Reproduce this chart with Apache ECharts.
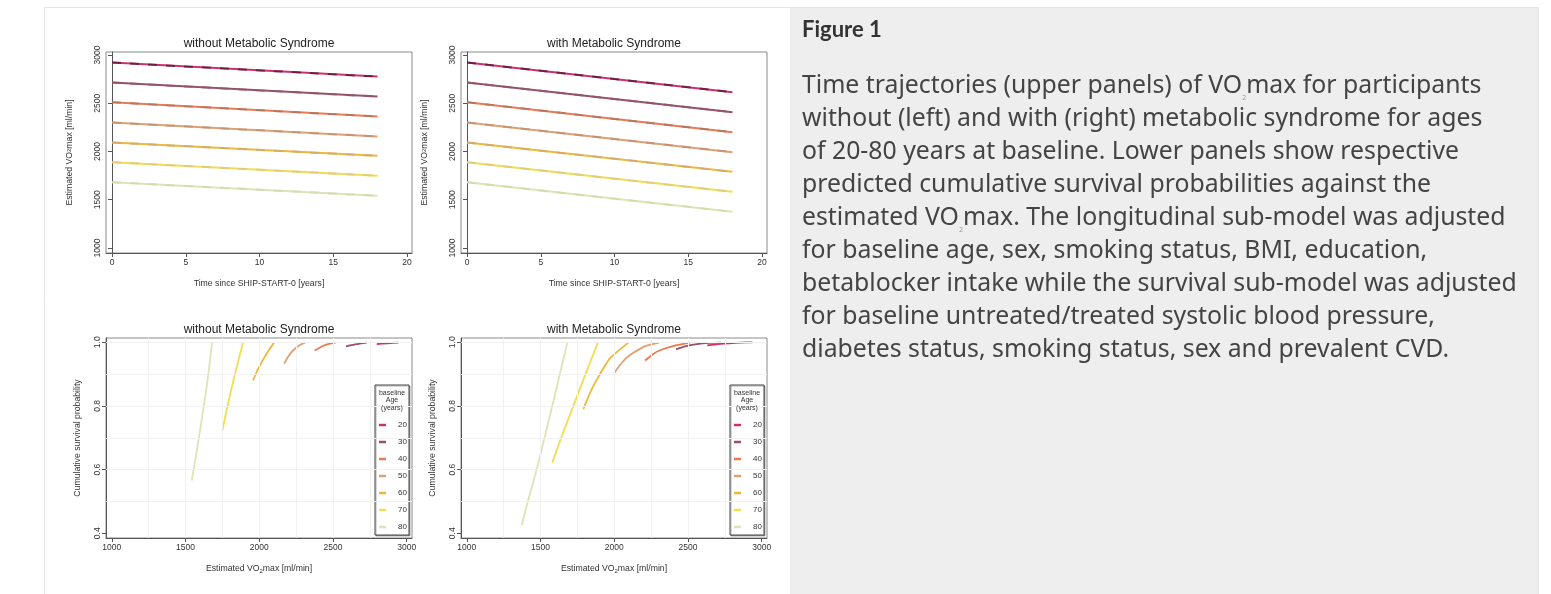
<!DOCTYPE html>
<html><head><meta charset="utf-8">
<script src="https://cdn.jsdelivr.net/npm/echarts@6/dist/echarts.min.js"></script>
<style>html,body{margin:0;padding:0;background:#fff}#c{width:1551px;height:594px}</style>
</head><body><div id="c"></div>
<script>
// ---------- data ----------
const ages = ['20', '30', '40', '50', '60', '70', '80'];
const timeTicks = [0, 5, 10, 15, 20];
const vo2Ticks = [1000, 1500, 2000, 2500, 3000];
const survTicks = [0.4, 0.6, 0.8, 1.0];
const gridVo2 = [1250, 1500, 1750, 2000, 2250, 2500, 2750];
const gridSurv = [0.5, 0.6, 0.7, 0.8, 0.9, 1.0];
const trajTime = [0, 18];
// VO2max at t=0 and t=18 years, per baseline age
const trajNoMetS = [[2921, 2776], [2714, 2569], [2510, 2362], [2300, 2155], [2093, 1955], [1889, 1748], [1682, 1541]];
const trajMetS = [[2921, 2614], [2714, 2407], [2510, 2200], [2300, 1993], [2093, 1789], [1889, 1582], [1682, 1375]];
// survival vs VO2max, per baseline age
const survNoMetS = [
  [[2797, 0.994], [2870, 0.997], [2944, 0.999]],
  [[2588, 0.987], [2660, 0.994], [2729, 0.999]],
  [[2376, 0.974], [2435, 0.989], [2480, 0.996], [2519, 0.999]],
  [[2169, 0.933], [2200, 0.958], [2231, 0.975], [2270, 0.990], [2311, 0.999]],
  [[1958, 0.880], [1990, 0.914], [2028, 0.947], [2065, 0.975], [2101, 0.999]],
  [[1750, 0.722], [1785, 0.800], [1825, 0.880], [1860, 0.945], [1890, 0.999]],
  [[1542, 0.565], [1580, 0.668], [1610, 0.756], [1648, 0.875], [1680, 0.998]]
];
const survMetS = [
  [[2631, 0.990], [2700, 0.994], [2780, 0.997], [2860, 0.999], [2937, 1.000]],
  [[2419, 0.978], [2480, 0.987], [2560, 0.994], [2640, 0.998], [2724, 0.999]],
  [[2209, 0.943], [2260, 0.962], [2311, 0.975], [2424, 0.991], [2514, 0.999]],
  [[1999, 0.903], [2050, 0.935], [2107, 0.960], [2209, 0.988], [2304, 0.999]],
  [[1791, 0.790], [1835, 0.840], [1881, 0.882], [1972, 0.950], [2096, 0.999]],
  [[1580, 0.622], [1650, 0.712], [1723, 0.800], [1814, 0.910], [1888, 0.998]],
  [[1373, 0.426], [1420, 0.510], [1474, 0.600], [1576, 0.792], [1682, 0.999]]
];
const panelTitles = ['without Metabolic Syndrome', 'with Metabolic Syndrome', 'without Metabolic Syndrome', 'with Metabolic Syndrome'];
const legendTitle = ['baseline', 'Age', '(years)'];
const captionHeading = 'Figure 1';
const captionLines = [
  'Time trajectories (upper panels) of VO{s|2}max for participants',
  'without (left) and with (right) metabolic syndrome for ages',
  'of 20-80 years at baseline. Lower panels show respective',
  'predicted cumulative survival probabilities against the',
  'estimated VO{s|2}max. The longitudinal sub-model was adjusted',
  'for baseline age, sex, smoking status, BMI, education,',
  'betablocker intake while the survival sub-model was adjusted',
  'for baseline untreated/treated systolic blood pressure,',
  'diabetes status, smoking status, sex and prevalent CVD.'
];

// ---------- styles ----------
const colors = ['#d0306a', '#9a5068', '#ee7850', '#e0a070', '#f0b838', '#f2dc50', '#dfe3b5'];
const overlay = ['#4a1a40', '#8c5a62', '#a07868', '#b89078', '#c8a878', '#d8c888', '#d4d6b0'];
const FONT = '"Liberation Sans", Arial, sans-serif';
const grids = [
  {left: 106, top: 52, width: 306, height: 201},
  {left: 461, top: 52, width: 306, height: 201},
  {left: 106, top: 338, width: 306, height: 200},
  {left: 461, top: 338, width: 306, height: 200}
];
const tickLabel = {fontSize: 8.5, color: '#333', fontFamily: FONT};
function xAxisCfg(i, top) {
  return {
    type: 'value', gridIndex: i,
    min: top ? -0.41 : 961, max: top ? 20.34 : 3036,
    name: top ? 'Time since SHIP-START-0 [years]' : 'Estimated VO{s|2}max [ml/min]',
    nameLocation: 'middle', nameGap: 26,
    nameTextStyle: {fontSize: 8.7, color: '#333', fontFamily: FONT, rich: {s: {fontSize: 6, color: '#333', fontFamily: FONT, padding: [4, 0, 0, 0]}}},
    axisLine: {show: true, lineStyle: {color: '#555', width: 1}},
    axisTick: {show: true, length: 4, lineStyle: {color: '#555'}, customValues: top ? timeTicks : vo2Ticks},
    axisLabel: Object.assign({margin: 5, customValues: top ? timeTicks : vo2Ticks, formatter: v => String(v)}, tickLabel),
    splitLine: {show: false}
  };
}
function yAxisCfg(i, top) {
  return {
    type: 'value', gridIndex: i,
    min: top ? 948 : 0.385, max: top ? 3031 : 1.0135,
    name: top ? 'Estimated VO{s|2}max [ml/min]' : 'Cumulative survival probability',
    nameLocation: 'middle', nameGap: top ? 32 : 24, nameRotate: 90,
    nameTextStyle: {fontSize: 8.7, color: '#333', fontFamily: FONT, rich: {s: {fontSize: 6, color: '#333', fontFamily: FONT}}},
    axisLine: {show: true, lineStyle: {color: '#555', width: 1}},
    axisTick: {show: true, length: 4, lineStyle: {color: '#555'}, customValues: top ? vo2Ticks : survTicks},
    axisLabel: Object.assign({margin: 4, rotate: 90, customValues: top ? vo2Ticks : survTicks,
      formatter: top ? (v => String(v)) : (v => v.toFixed(1))}, tickLabel),
    splitLine: {show: false}
  };
}

const series = [];
// grid lines for lower panels
[2, 3].forEach(i => {
  series.push({
    type: 'line', xAxisIndex: i, yAxisIndex: i, data: [], silent: true, z: 1,
    markLine: {
      silent: true, symbol: ['none', 'none'], animation: false, label: {show: false},
      lineStyle: {color: '#f1f1f1', type: 'solid', width: 1},
      emphasis: {disabled: true},
      data: gridSurv.map(v => ({yAxis: v})).concat(gridVo2.map(v => ({xAxis: v})))
    }
  });
});
// trajectories
[trajNoMetS, trajMetS].forEach((traj, p) => {
  traj.forEach((vals, k) => {
    const d = trajTime.map((t, j) => [t, vals[j]]);
    series.push({name: ages[k], type: 'line', xAxisIndex: p, yAxisIndex: p, data: d, showSymbol: false, z: 3,
      lineStyle: {color: colors[k], width: 2}, itemStyle: {color: colors[k]}});
    series.push({name: ages[k], type: 'line', xAxisIndex: p, yAxisIndex: p, data: d, showSymbol: false, z: 4,
      lineStyle: {color: overlay[k], width: 2, type: [9, 9], opacity: 0.75}, itemStyle: {color: colors[k]}});
  });
});
// survival curves
[survNoMetS, survMetS].forEach((surv, p) => {
  surv.forEach((pts, k) => {
    series.push({name: ages[k], type: 'line', xAxisIndex: p + 2, yAxisIndex: p + 2, data: pts, showSymbol: false, z: 3,
      smooth: 0.15,
      lineStyle: {color: colors[k], width: 1.8}, itemStyle: {color: colors[k]}});
  });
});

const legends = [2, 3].map(i => ({
  left: grids[i].left + grids[i].width - 37, top: 385,
  orient: 'vertical', padding: [35, 2, 3, 4], itemGap: 7,
  itemWidth: 7, itemHeight: 2.5, icon: 'rect',
  backgroundColor: '#fff', borderColor: '#444', borderWidth: 1,
  shadowColor: 'rgba(0,0,0,0.3)', shadowOffsetX: 1, shadowOffsetY: 1, shadowBlur: 0,
  selectedMode: false,
  data: ages.map((a, k) => ({name: a, itemStyle: {color: colors[k]}})),
  formatter: '{v|{name}}',
  textStyle: {fontSize: 8, lineHeight: 10, color: '#333', fontFamily: FONT,
    rich: {v: {width: 16, align: 'right', fontSize: 8, lineHeight: 10, color: '#333', fontFamily: FONT}}}
}));

const graphic = [];
graphic.push({type: 'rect', z: -10, shape: {x: 44.5, y: 7.5, width: 1494, height: 600}, style: {fill: '#fff', stroke: '#e4e4e4', lineWidth: 1}});
graphic.push({type: 'rect', z: -9, shape: {x: 790, y: 8, width: 748, height: 600}, style: {fill: '#eeeeee'}});
grids.forEach((g, i) => {
  graphic.push({type: 'text', z: 10, x: g.left + g.width / 2, y: g.top - 8,
    style: {text: panelTitles[i], fontSize: 12, fill: '#222', fontFamily: FONT, align: 'center', verticalAlign: 'middle'}});
});
legends.forEach(l => {
  legendTitle.forEach((t, j) => {
    graphic.push({type: 'text', z: 10, x: l.left + 17, y: 393 + j * 7.5,
      style: {text: t, fontSize: 7, fill: '#333', fontFamily: FONT, align: 'center', verticalAlign: 'middle'}});
  });
});
const HEADFONT = 'Lato, "Noto Sans", sans-serif';
const CAPFONT = '"Noto Sans", Lato, sans-serif';
graphic.push({type: 'text', z: 10, x: 802, y: 30,
  style: {text: captionHeading, fontSize: 22, fontWeight: 'bold', fill: '#333', fontFamily: HEADFONT, align: 'left', verticalAlign: 'middle'}});
captionLines.forEach((t, j) => {
  graphic.push({type: 'text', z: 10, x: 802, y: 86 + j * 33,
    style: {text: t, fontSize: 24.8, lineHeight: 30, fill: '#444', fontFamily: CAPFONT, align: 'left', verticalAlign: 'middle',
      rich: {s: {fontSize: 7, lineHeight: 9, fill: '#999', fontFamily: CAPFONT, verticalAlign: 'bottom'}}}});
});

const chart = echarts.init(document.getElementById('c'), null, {renderer: 'canvas'});
chart.setOption({
  animation: false,
  backgroundColor: '#fff',
  grid: grids.map(g => Object.assign({show: true, borderColor: '#8a8a8a', borderWidth: 1, backgroundColor: '#fff', containLabel: false}, g)),
  xAxis: [0, 1, 2, 3].map(i => xAxisCfg(i, i < 2)),
  yAxis: [0, 1, 2, 3].map(i => yAxisCfg(i, i < 2)),
  legend: legends,
  series: series,
  graphic: graphic
});
</script></body></html>
